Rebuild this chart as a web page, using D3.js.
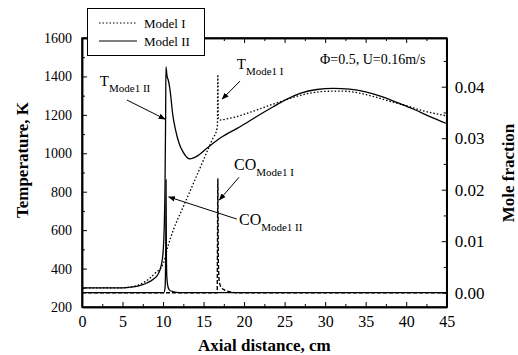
<!DOCTYPE html>
<html>
<head>
<meta charset="utf-8">
<style>
  body { margin: 0; background: white; }
  svg text { font-family: "Liberation Serif", "Times New Roman", serif; fill: black; }
  .axis path, .axis line { stroke: black; }
  .axis path { stroke-width: 1.5; }
</style>
<script src="https://cdn.jsdelivr.net/npm/d3@7/dist/d3.min.js"></script>
</head>
<body>
<div id="chart"></div>
<script>
// --- data ---
var tempModel2X = [0, 5, 6, 7, 7.5, 8, 8.8, 9.4, 9.8, 10.03, 10.15, 10.25, 10.32, 10.36, 10.5, 10.65, 10.86, 11.2, 11.5, 12, 12.5, 13.3, 14.2, 15.4, 17, 19.5, 21.5, 23.6, 25, 27, 29, 31, 33, 35, 37, 39, 41, 43, 45];
var tempModel2Y = [300, 300, 303, 310, 316, 325, 345, 372, 420, 500, 620, 850, 1200, 1450, 1400, 1380, 1330, 1200, 1130, 1050, 1005, 971, 985, 1026, 1078, 1138, 1190, 1242, 1275, 1313, 1332, 1338, 1334, 1320, 1295, 1262, 1228, 1190, 1155];

var tempModel1X = [0, 5, 6, 7, 7.8, 9, 10.03, 10.65, 11.27, 12.5, 14, 15, 16, 16.7, 16.76, 16.82, 17, 18, 19, 20, 22, 24, 26, 28, 30, 32, 34, 36, 38, 40, 42, 44, 45];
var tempModel1Y = [300, 300, 304, 315, 332, 375, 427, 523, 601, 722, 868, 966, 1065, 1135, 1410, 1180, 1173, 1180, 1190, 1203, 1232, 1262, 1290, 1312, 1322, 1324, 1315, 1295, 1270, 1248, 1222, 1203, 1195];

var coModel2X = [0, 10.1, 10.25, 10.33, 10.37, 10.41, 10.47, 10.6, 10.8, 11.2, 12, 45];
var coModel2Y = [0, 0, 0.001, 0.008, 0.0219, 0.008, 0.003, 0.0012, 0.0005, 0.0002, 0, 0];

var coModel1X = [0, 16.68, 16.72, 16.76, 16.82, 16.95, 17.2, 17.6, 18.2, 19, 45];
var coModel1Y = [0, 0, 0.01, 0.0222, 0.006, 0.002, 0.001, 0.0005, 0.0002, 0, 0];

var xTicks = [0, 5, 10, 15, 20, 25, 30, 35, 40, 45];
var tTicks = [200, 400, 600, 800, 1000, 1200, 1400, 1600];
var coTicks = [0, 0.01, 0.02, 0.03, 0.04];

// annotation anchors in data units
var labels = [
  { main: "T", sub: "Mode1 II", x: 2.2, t: 1350, axis: "t", ax1: 5.55, ay1: 1277, ax2: 10.24, ay2: 1178 },
  { main: "T", sub: "Mode1 I", x: 19.1, t: 1440, axis: "t", ax1: 19.5, ay1: 1376, ax2: 17.3, ay2: 1282 },
  { main: "CO", sub: "Mode1 I", x: 18.76, t: 0.0238, axis: "co", ax1: 19.37, ay1: 0.0224, ax2: 16.95, ay2: 0.018 },
  { main: "CO", sub: "Mode1 II", x: 19.37, t: 0.0131, axis: "co", ax1: 19.1, ay1: 0.0143, ax2: 10.7, ay2: 0.0186 }
];

var W = 518, H = 355;
var margin = { left: 82, right: 71.3, top: 38, bottom: 48 };
var SERIF = '"Liberation Serif", "Times New Roman", serif';

var svg = d3.select('#chart').append('svg')
    .attr('width', W)
    .attr('height', H);

var x = d3.scaleLinear().domain([0, 45]).range([margin.left, W - margin.right]);
var yT = d3.scaleLinear().domain([200, 1600]).range([H - margin.bottom, margin.top]);
var yC = d3.scaleLinear().domain([-0.00278, 0.04946]).range([H - margin.bottom, margin.top]);

svg.append('defs').append('clipPath').attr('id', 'plot')
  .append('rect')
    .attr('x', margin.left).attr('y', margin.top)
    .attr('width', x.range()[1] - margin.left)
    .attr('height', H - margin.bottom - margin.top);

svg.append('defs').append('marker')
    .attr('id', 'arrow')
    .attr('viewBox', '0 0 10 10')
    .attr('refX', 9).attr('refY', 5)
    .attr('markerWidth', 7).attr('markerHeight', 7)
    .attr('markerUnits', 'userSpaceOnUse')
    .attr('orient', 'auto')
  .append('path')
    .attr('d', 'M0,1 L10,5 L0,9 Z')
    .attr('fill', 'black');

// --- axes ---
function styleAxis(g, size) {
  g.attr('class', 'axis').attr('font-family', SERIF);
  g.selectAll('text')
      .style('font-family', SERIF)
      .style('font-size', size + 'px');
}

var bottom = H - margin.bottom, right = x.range()[1];

svg.append('g').attr('transform', 'translate(0,' + bottom + ')')
    .call(d3.axisBottom(x).tickValues(xTicks).tickSizeInner(-5).tickSizeOuter(0).tickPadding(9).tickFormat(d3.format('d')))
    .call(styleAxis, 16);
svg.append('g').attr('transform', 'translate(0,' + bottom + ')')
    .call(d3.axisBottom(x).tickValues(d3.range(2.5, 45, 5)).tickSizeInner(-3).tickSizeOuter(0).tickFormat(''))
    .call(styleAxis, 16);
svg.append('g').attr('transform', 'translate(0,' + margin.top + ')')
    .call(d3.axisTop(x).tickValues(xTicks).tickSizeInner(-5).tickSizeOuter(0).tickFormat(''))
    .call(styleAxis, 16);
svg.append('g').attr('transform', 'translate(0,' + margin.top + ')')
    .call(d3.axisTop(x).tickValues(d3.range(2.5, 45, 5)).tickSizeInner(-3).tickSizeOuter(0).tickFormat(''))
    .call(styleAxis, 16);

svg.append('g').attr('transform', 'translate(' + margin.left + ',0)')
    .call(d3.axisLeft(yT).tickValues(tTicks).tickSizeInner(-5).tickSizeOuter(0).tickPadding(10).tickFormat(d3.format('d')))
    .call(styleAxis, 14);
svg.append('g').attr('transform', 'translate(' + margin.left + ',0)')
    .call(d3.axisLeft(yT).tickValues(d3.range(300, 1600, 200)).tickSizeInner(-3).tickSizeOuter(0).tickFormat(''))
    .call(styleAxis, 14);

svg.append('g').attr('transform', 'translate(' + right + ',0)')
    .call(d3.axisRight(yC).tickValues(coTicks).tickSizeInner(-5).tickSizeOuter(0).tickPadding(8).tickFormat(d3.format('.2f')))
    .call(styleAxis, 17);
svg.append('g').attr('transform', 'translate(' + right + ',0)')
    .call(d3.axisRight(yC).tickValues([0.005, 0.015, 0.025, 0.035, 0.045]).tickSizeInner(-3).tickSizeOuter(0).tickFormat(''))
    .call(styleAxis, 17);

// axis titles
svg.append('text')
    .attr('x', (margin.left + right) / 2).attr('y', 351)
    .attr('text-anchor', 'middle')
    .style('font-size', '17px').style('font-weight', 'bold')
    .text('Axial distance, cm');
svg.append('text')
    .attr('transform', 'translate(28,160) rotate(-90)')
    .attr('text-anchor', 'middle')
    .style('font-size', '17px').style('font-weight', 'bold')
    .text('Temperature, K');
svg.append('text')
    .attr('transform', 'translate(514,173) rotate(-90)')
    .attr('text-anchor', 'middle')
    .style('font-size', '17px').style('font-weight', 'bold')
    .text('Mole fraction');

// --- curves ---
var plot = svg.append('g').attr('clip-path', 'url(#plot)');

function drawLine(xs, ys, yScale, dash, width) {
  var pts = xs.map(function(d, i) { return [d, ys[i]]; });
  plot.append('path')
      .datum(pts)
      .attr('fill', 'none')
      .attr('stroke', 'black')
      .attr('stroke-width', width)
      .attr('stroke-dasharray', dash)
      .attr('d', d3.line()
        .x(function(d) { return x(d[0]); })
        .y(function(d) { return yScale(d[1]); })
        .curve(d3.curveMonotoneX));
}

drawLine(coModel1X, coModel1Y, yC, '4,2', 1.4);
drawLine(coModel2X, coModel2Y, yC, null, 1.3);
drawLine(tempModel1X, tempModel1Y, yT, '1.5,2', 1.3);
drawLine(tempModel2X, tempModel2Y, yT, null, 1.3);

// frame
svg.append('rect')
    .attr('x', margin.left).attr('y', margin.top)
    .attr('width', right - margin.left).attr('height', bottom - margin.top)
    .attr('fill', 'none').attr('stroke', 'black').attr('stroke-width', 1.5);

// --- annotations ---
labels.forEach(function(l) {
  var ys = l.axis === 't' ? yT : yC;
  var big = l.main === 'T' ? 15 : 16;
  var t = svg.append('text')
      .attr('x', x(l.x)).attr('y', ys(l.t))
      .style('font-size', big + 'px');
  t.append('tspan').text(l.main);
  t.append('tspan').attr('dy', 6).style('font-size', '11px').text(l.sub);
  svg.append('line')
      .attr('x1', x(l.ax1)).attr('y1', ys(l.ay1))
      .attr('x2', x(l.ax2)).attr('y2', ys(l.ay2))
      .attr('stroke', 'black').attr('stroke-width', 1)
      .attr('marker-end', 'url(#arrow)');
});

svg.append('text')
    .attr('x', x(29.37)).attr('y', yT(1465))
    .style('font-size', '14px')
    .text('\u03A6=0.5, U=0.16m/s');

// legend
var legend = svg.append('g');
legend.append('rect')
    .attr('x', 87.5).attr('y', 8.5).attr('width', 117).attr('height', 47)
    .attr('fill', 'white').attr('stroke', 'black').attr('stroke-width', 1);
[['Model I', '1.5,2', 23], ['Model II', null, 41]].forEach(function(e) {
  legend.append('line')
      .attr('x1', 99).attr('x2', 137).attr('y1', e[2]).attr('y2', e[2])
      .attr('stroke', 'black').attr('stroke-width', 1.2)
      .attr('stroke-dasharray', e[1]);
  legend.append('text')
      .attr('x', 144).attr('y', e[2] + 4.5)
      .style('font-size', '13px')
      .text(e[0]);
});
</script>
</body>
</html>
